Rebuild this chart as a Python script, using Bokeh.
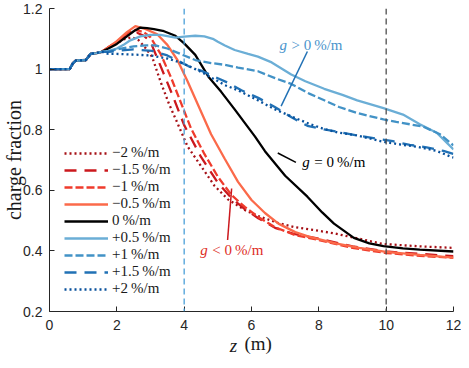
from bokeh.plotting import figure
from bokeh.models import Range1d, FixedTicker, Span, Label, Legend, LegendItem, LinearAxis
from bokeh.embed import file_html
from bokeh.resources import INLINE

# ---------------- data ----------------
Z0 = [0, 0.6, 0.7, 0.78, 1.08, 1.22, 1.4, 1.55]
F0 = [1.0, 1.0, 1.02, 1.028, 1.03, 1.05, 1.053, 1.057]

Z_M2 = Z0 + [1.75, 2.0, 2.2, 2.45, 2.65, 2.85, 3.05, 3.3, 3.55, 3.8, 4.1, 4.5, 4.9, 5.3, 5.8, 6.2, 6.8, 7.3, 7.9, 8.45, 9.2, 9.9, 11.0, 12.0]
F_M2 = F0 + [1.07, 1.085, 1.098, 1.105, 1.095, 1.07, 1.04, 0.958, 0.885, 0.822, 0.745, 0.68, 0.615, 0.57, 0.535, 0.515, 0.492, 0.478, 0.468, 0.458, 0.44, 0.423, 0.415, 0.41]

Z_M15 = Z0 + [1.75, 2.0, 2.3, 2.6, 2.8, 3.0, 3.3, 3.65, 4.0, 4.5, 5.0, 5.4, 5.8, 6.2, 6.7, 7.3, 8.0, 9.0, 10.0, 11.0, 12.0]
F_M15 = F0 + [1.072, 1.09, 1.112, 1.12, 1.11, 1.09, 1.01, 0.915, 0.815, 0.71, 0.625, 0.575, 0.538, 0.508, 0.476, 0.455, 0.44, 0.415, 0.398, 0.39, 0.383]

Z_M1 = Z0 + [1.75, 2.0, 2.3, 2.55, 2.8, 3.0, 3.3, 3.6, 3.9, 4.2, 4.6, 5.0, 5.4, 5.8, 6.2, 6.7, 7.3, 8.0, 9.0, 10.0, 11.0, 12.0]
F_M1 = F0 + [1.072, 1.09, 1.118, 1.13, 1.122, 1.105, 1.05, 0.975, 0.89, 0.805, 0.72, 0.645, 0.585, 0.545, 0.512, 0.478, 0.452, 0.436, 0.41, 0.393, 0.384, 0.377]

Z_M05 = Z0 + [1.75, 2.0, 2.3, 2.55, 2.86, 3.2, 3.5, 3.8, 4.1, 4.4, 4.8, 5.2, 5.6, 6.0, 6.4, 6.8, 7.3, 7.7, 8.5, 9.2, 10.0, 11.0, 12.0]
F_M05 = F0 + [1.072, 1.092, 1.122, 1.142, 1.132, 1.115, 1.08, 1.03, 0.96, 0.885, 0.785, 0.705, 0.628, 0.568, 0.525, 0.49, 0.462, 0.447, 0.425, 0.41, 0.397, 0.387, 0.378]

Z_0 = Z0 + [1.75, 2.0, 2.3, 2.5, 2.7, 2.9, 3.1, 3.4, 3.74, 4.0, 4.33, 4.72, 5.1, 5.5, 6.1, 6.4, 7.0, 7.66, 8.1, 8.45, 9.04, 9.5, 9.92, 10.5, 11.0, 12.0]
F_0 = F0 + [1.068, 1.083, 1.108, 1.125, 1.137, 1.135, 1.132, 1.125, 1.11, 1.085, 1.047, 0.975, 0.925, 0.867, 0.778, 0.729, 0.648, 0.579, 0.527, 0.49, 0.443, 0.425, 0.416, 0.408, 0.404, 0.398]

Z_P05 = Z0 + [1.75, 2.0, 2.2, 2.4, 2.7, 3.0, 3.3, 3.74, 4.0, 4.33, 4.6, 4.85, 5.0, 5.21, 5.5, 5.9, 6.19, 6.6, 7.18, 7.6, 8.16, 8.7, 9.14, 9.92, 10.5, 11.0, 11.5, 12.0]
F_P05 = F0 + [1.06, 1.068, 1.08, 1.095, 1.108, 1.113, 1.113, 1.104, 1.107, 1.11, 1.108, 1.1, 1.09, 1.078, 1.063, 1.05, 1.041, 1.022, 0.982, 0.96, 0.935, 0.915, 0.897, 0.871, 0.85, 0.818, 0.79, 0.735]

Z_P1 = Z0 + [1.75, 2.0, 2.5, 2.86, 3.15, 3.5, 3.74, 4.0, 4.33, 4.8, 5.21, 5.6, 6.19, 6.7, 7.18, 7.7, 8.16, 8.6, 9.14, 9.5, 9.92, 10.3, 10.7, 11.1, 11.6, 12.0]
F_P1 = F0 + [1.058, 1.065, 1.075, 1.078, 1.078, 1.068, 1.057, 1.045, 1.03, 1.02, 1.014, 1.005, 0.993, 0.97, 0.951, 0.92, 0.897, 0.875, 0.855, 0.845, 0.834, 0.826, 0.818, 0.81, 0.785, 0.748]

Z_P15 = Z0 + [1.75, 2.0, 2.5, 3.05, 3.5, 4.12, 4.5, 5.0, 5.3, 5.7, 6.2, 6.68, 7.2, 7.66, 8.2, 8.65, 9.2, 9.73, 10.2, 10.7, 11.2, 11.7, 12.0]
F_P15 = F0 + [1.057, 1.06, 1.065, 1.06, 1.045, 1.01, 0.995, 0.97, 0.955, 0.93, 0.905, 0.876, 0.84, 0.813, 0.8, 0.791, 0.78, 0.77, 0.762, 0.75, 0.742, 0.73, 0.72]

Z_P2 = Z0 + [1.75, 2.0, 2.5, 3.0, 3.5, 3.94, 4.33, 4.6, 5.21, 5.6, 6.19, 6.68, 7.18, 7.7, 8.16, 8.6, 9.14, 9.92, 10.5, 10.9, 11.5, 11.9, 12.0]
F_P2 = F0 + [1.05, 1.05, 1.048, 1.045, 1.035, 1.02, 1.0, 0.985, 0.947, 0.93, 0.897, 0.868, 0.844, 0.82, 0.802, 0.79, 0.781, 0.76, 0.75, 0.744, 0.73, 0.712, 0.708]

LABELS = ["\u22122\u2009%/m", "\u22121.5\u2009%/m", "\u22121\u2009%/m", "\u22120.5\u2009%/m", "0\u2009%/m",
          "+0.5\u2009%/m", "+1\u2009%/m", "+1.5\u2009%/m", "+2\u2009%/m"]
COLORS = ["#A50F15", "#CB181D", "#EF3B2C", "#FB6A4A", "#000000", "#6BAED6", "#4292C6", "#2171B5", "#08519C"]
DASHES = ["2 3", "12 8", "8 3", "solid", "solid", "solid", "8 3", "12 8", "2 3"]
SERIES = [(Z_M2, F_M2), (Z_M15, F_M15), (Z_M1, F_M1), (Z_M05, F_M05), (Z_0, F_0),
          (Z_P05, F_P05), (Z_P1, F_P1), (Z_P15, F_P15), (Z_P2, F_P2)]

X_TICKS = [0, 2, 4, 6, 8, 10, 12]
Y_TICKS = [0.2, 0.4, 0.6, 0.8, 1.0, 1.2]
Y_TICK_LABELS = ["0.2", "0.4", "0.6", "0.8", "1", "1.2"]

VLINES = [4, 10]
VLINE_COLORS = ["#4A9FD8", "#4D4D4D"]

# annotation leader lines (data coords)
ANN_POS = ([7.66, 6.88], [1.058, 0.878])
ANN_ZERO = ([6.78, 7.32], [0.723, 0.692])
ANN_NEG = ([5.41, 5.29], [0.606, 0.436])

SERIF = "Liberation Serif"
SANS = "Liberation Sans"
AXC = "#262626"
TXT = "#1a1a1a"

p = figure(width=461, height=360, output_backend="svg", toolbar_location=None,
           x_range=Range1d(0, 12), y_range=Range1d(0.2, 1.2),
           min_border_left=45, min_border_right=8, min_border_top=8, min_border_bottom=49)
p.outline_line_color = None
p.grid.visible = False

for ax in (p.xaxis[0], p.yaxis[0]):
    ax.axis_line_color = AXC
    ax.major_tick_line_color = AXC
    ax.major_tick_in = 5
    ax.major_tick_out = 0
    ax.minor_tick_line_color = None
    ax.major_label_text_font = SANS
    ax.major_label_text_font_size = "14px"
    ax.major_label_text_color = AXC
    ax.axis_label_text_font = SERIF
    ax.axis_label_text_font_style = "normal"
    ax.axis_label_text_color = TXT
p.xaxis[0].ticker = FixedTicker(ticks=X_TICKS)
p.yaxis[0].ticker = FixedTicker(ticks=Y_TICKS)
p.yaxis[0].major_label_overrides = dict(zip(Y_TICKS, Y_TICK_LABELS))
p.xaxis[0].major_label_standoff = 8
p.yaxis[0].major_label_standoff = 7

p.yaxis[0].axis_label = "charge fraction"
p.yaxis[0].axis_label_text_font_size = "20px"
p.yaxis[0].axis_label_standoff = -5

p.xaxis[0].axis_label = "\u2002\u2009(m)"
p.xaxis[0].axis_label_text_font_size = "19px"
p.xaxis[0].axis_label_standoff = 0

zax = LinearAxis(ticker=FixedTicker(ticks=[]), axis_line_color=None, major_tick_line_color=None,
                 minor_tick_line_color=None, major_label_standoff=0, major_tick_out=0, major_tick_in=0,
                 axis_label="z\u2003\u2002\u2009\u2009", axis_label_text_font=SERIF,
                 axis_label_text_font_style="italic", axis_label_text_font_size="19px",
                 axis_label_text_color=TXT, axis_label_standoff=-22)
p.add_layout(zax, "below")

for loc, col in zip(VLINES, VLINE_COLORS):
    p.add_layout(Span(location=loc, dimension="height", line_color=col, line_dash="6 4", line_width=1.3))

items = []
for (zs, fs), lab, col, dash in zip(SERIES, LABELS, COLORS, DASHES):
    r = p.line(zs, fs, line_color=col, line_width=2.3, line_dash=dash)
    items.append(LegendItem(label=lab, renderers=[r]))

legend = Legend(items=items, location=(15, 14), padding=0, margin=0, spacing=0,
                glyph_width=44, glyph_height=16, label_height=16, label_standoff=4,
                label_text_font=SERIF, label_text_font_size="15px", label_text_color=TXT,
                border_line_color=None, background_fill_alpha=0)
p.add_layout(legend)

# annotations
p.line(ANN_POS[0], ANN_POS[1], line_color="#2171B5", line_width=1.5)
p.line(ANN_ZERO[0], ANN_ZERO[1], line_color="#000000", line_width=1.5)
p.line(ANN_NEG[0], ANN_NEG[1], line_color="#CB181D", line_width=1.5)

def glabel(x, y, rest, color):
    p.add_layout(Label(x=x, y=y, text="g", text_font=SERIF, text_font_style="italic",
                       text_font_size="15px", text_color=color, text_baseline="middle"))
    p.add_layout(Label(x=x, y=y, x_offset=12, text=rest, text_font=SERIF,
                       text_font_size="15px", text_color=color, text_baseline="middle"))

glabel(6.83, 1.081, "> 0\u2009%/m", "#4A94CC")
glabel(7.51, 0.692, "= 0\u2009%/m", "#000000")
glabel(4.48, 0.404, "< 0\u2009%/m", "#DE2D26")

open("out.html", "w").write(file_html(p, INLINE))
